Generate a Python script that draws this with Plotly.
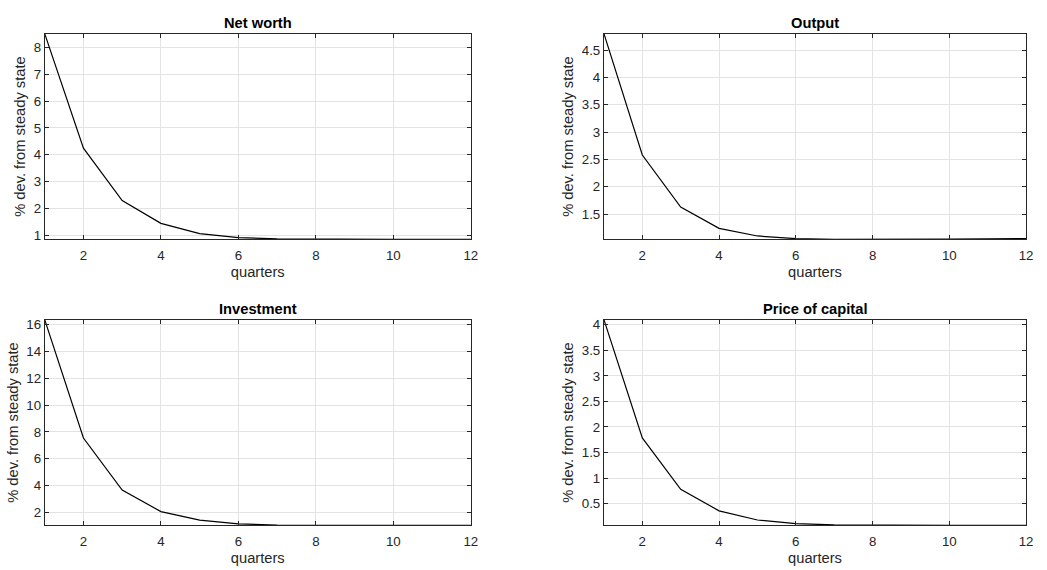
import plotly.graph_objects as go

quarters = list(range(1, 13))
net_worth = [8.51, 4.25, 2.30, 1.45, 1.07, 0.92, 0.87, 0.855, 0.85, 0.85, 0.85, 0.85]
output = [4.80, 2.58, 1.63, 1.24, 1.10, 1.05, 1.038, 1.036, 1.038, 1.042, 1.047, 1.053]
investment = [16.37, 7.55, 3.68, 2.07, 1.43, 1.16, 1.07, 1.05, 1.045, 1.04, 1.04, 1.04]
price_capital = [4.10, 1.785, 0.78, 0.36, 0.18, 0.11, 0.085, 0.078, 0.075, 0.074, 0.074, 0.074]

titles = ["Net worth", "Output", "Investment", "Price of capital"]
series = [net_worth, output, investment, price_capital]
dticks = [1, 0.5, 2, 0.5]

FONT = "Liberation Sans, Arial, Helvetica, sans-serif"
TICK = 13.3
LAB = 14.7
xdoms = [[45 / 1047, 474 / 1047], [608 / 1047, 1033 / 1047]]
ydoms = [[1 - 240 / 570, 1 - 32 / 570], [1 - 529 / 570, 1 - 321 / 570]]

fig = go.Figure()
for i, (t, s, dt) in enumerate(zip(titles, series, dticks)):
    r, c = divmod(i, 2)
    xa = "x" if i == 0 else f"x{i+1}"
    ya = "y" if i == 0 else f"y{i+1}"
    fig.add_trace(go.Scatter(x=quarters, y=s, mode="lines",
                             line=dict(color="black", width=1.2),
                             xaxis=xa, yaxis=ya, showlegend=False, hoverinfo="skip"))
    axcommon = dict(showline=True, linecolor="#262626", linewidth=1, mirror="ticks",
                    ticks="inside", ticklen=4, tickcolor="#262626",
                    showgrid=True, gridcolor="#e3e3e3", gridwidth=1, zeroline=False,
                    tickfont=dict(family=FONT, size=TICK, color="#262626"))
    xkey = "xaxis" if i == 0 else f"xaxis{i+1}"
    ykey = "yaxis" if i == 0 else f"yaxis{i+1}"
    fig.update_layout({
        xkey: dict(domain=xdoms[c], anchor=ya, range=[1, 12], dtick=2, tick0=0,
                   ticklabelstandoff=4,
                   title=dict(text="quarters", font=dict(family=FONT, size=LAB, color="#262626"), standoff=4),
                   **axcommon),
        ykey: dict(domain=ydoms[r], anchor=xa, range=[min(s), max(s)], dtick=dt, tick0=0,
                   title=dict(text="% dev. from steady state", font=dict(family=FONT, size=LAB, color="#262626"), standoff=4),
                   **axcommon),
    })
    fig.add_annotation(text=f"<b>{t}</b>", x=sum(xdoms[c]) / 2, y=ydoms[r][1],
                       xref="paper", yref="paper", xanchor="center", yanchor="bottom",
                       yshift=1, showarrow=False,
                       font=dict(family=FONT, size=LAB, color="black"))

fig.update_layout(width=1047, height=570, margin=dict(l=0, r=0, t=0, b=0),
                  paper_bgcolor="white", plot_bgcolor="white")
fig.write_html("out.html", config={"displayModeBar": False},
               post_script="document.body.style.margin='0';")
